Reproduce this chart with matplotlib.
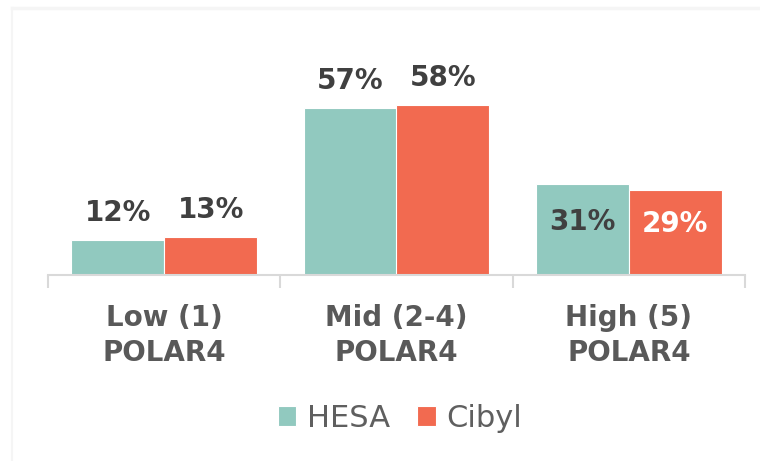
import numpy as np
import matplotlib
matplotlib.use("Agg")
import matplotlib.pyplot as plt
from matplotlib.lines import Line2D

# --- data ---
categorias = ["Low (1)\nPOLAR4", "Mid (2-4)\nPOLAR4", "High (5)\nPOLAR4"]
hesa = [12, 57, 31]
cibyl = [13, 58, 29]
series = ["HESA", "Cibyl"]

c_hesa = "#91c9bf"
c_cibyl = "#f26a50"
gris_eje = "#d9d9d9"
gris_txt = "#404040"

plt.rcParams["font.family"] = ["DejaVu Sans"]

fig = plt.figure(figsize=(7.6, 4.61), dpi=100)
fig.patch.set_facecolor("white")
ax = fig.add_axes([48 / 760, 1 - 275 / 461, 697 / 760, 176 / 461])

# marco tenue (solo arriba e izquierda) del recuadro original
fig.lines.append(Line2D([12 / 760, 1], [1 - 8 / 461, 1 - 8 / 461], transform=fig.transFigure,
                        color="#f5f5f5", linewidth=2.5))
fig.lines.append(Line2D([12 / 760, 12 / 760], [0, 1 - 8 / 461], transform=fig.transFigure,
                        color="#f5f5f5", linewidth=1.5))

x = np.arange(len(categorias))
w = 0.4
b1 = ax.bar(x - w / 2, hesa, w, color=c_hesa, edgecolor="white", linewidth=0.8, label=series[0])
b2 = ax.bar(x + w / 2, cibyl, w, color=c_cibyl, edgecolor="white", linewidth=0.8, label=series[1])

ax.set_xlim(-0.5, 2.5)
ax.set_ylim(0, 60)
ax.set_yticks([])
for s in ["top", "right", "left"]:
    ax.spines[s].set_visible(False)
ax.spines["bottom"].set_color(gris_eje)
ax.spines["bottom"].set_linewidth(1.5)

ax.set_xticks(x)
ax.set_xticklabels(categorias, fontsize=20, fontweight="bold", color="#595959",
                   linespacing=1.3)
ax.tick_params(axis="x", which="major", length=0, pad=21)
ax.set_xticks([-0.5, 0.5, 1.5, 2.5], minor=True)
ax.tick_params(axis="x", which="minor", length=9, width=1.5, color=gris_eje)

# etiquetas de valores
for i in range(len(categorias)):
    for val, xx, col in [(hesa[i], x[i] - w / 2, gris_txt), (cibyl[i], x[i] + w / 2, "white")]:
        if i == 2:
            ax.text(xx, val / 2, f"{val}%", ha="center", va="baseline", fontsize=20,
                    fontweight="bold", color=col)
        else:
            ax.annotate(f"{val}%", (xx, val), xytext=(0, 13.5), textcoords="offset points",
                        ha="center", va="baseline", fontsize=20, fontweight="bold",
                        color=gris_txt, annotation_clip=False)

fig.legend(handles=[b1, b2], labels=series, loc="center", bbox_to_anchor=(400 / 760, 1 - 418 / 461),
           ncol=2, frameon=False, fontsize=22, handlelength=0.6, handleheight=0.65,
           handletextpad=0.35, columnspacing=0.9, labelcolor="#5f5f5f")

fig.savefig("out.png", dpi=100)
